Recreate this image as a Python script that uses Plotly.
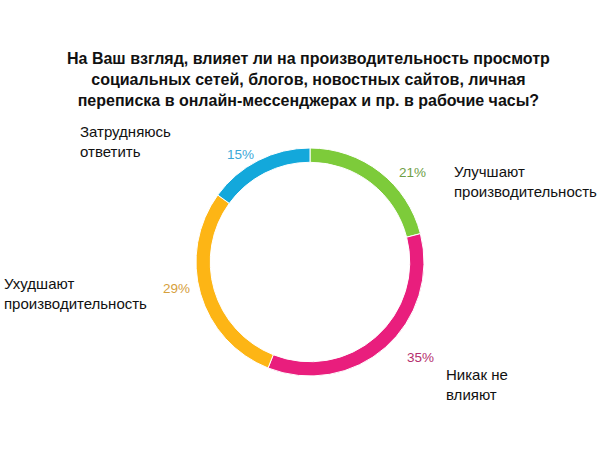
import plotly.graph_objects as go

categories = ["Улучшают<br>производительность", "Никак не<br>влияют", "Ухудшают<br>производительность", "Затрудняюсь<br>ответить"]
values = [21, 35, 29, 15]
colors = ["#7DCB3A", "#E91E7D", "#FDB515", "#13A8DB"]
pct_colors = ["#6E9E45", "#B5306E", "#D6A03C", "#3CA8D8"]

W, H = 600, 450
title = ("На Ваш взгляд, влияет ли на производительность просмотр<br>"
         "социальных сетей, блогов, новостных сайтов, личная<br>"
         "переписка в онлайн-мессенджерах и пр. в рабочие часы?")

fig = go.Figure(go.Pie(
    labels=categories, values=values, sort=False, direction="clockwise",
    rotation=0, hole=0.875, textinfo="none", hoverinfo="label+percent",
    marker=dict(colors=colors, line=dict(color="white", width=1)),
    domain=dict(x=[196 / W, 424 / W], y=[1 - 376 / H, 1 - 148 / H]),
    showlegend=False,
))

# label positions (pixels) for category text and percent text
cat_pos = [(452, 181), (444, 384), (2, 293), (78, 141)]
pct_pos = [(412, 172), (420, 357), (176, 288), (240, 154)]

ann = [dict(text="<b>" + title + "</b>", x=308 / W, y=1 - 79 / H, xref="paper", yref="paper",
            showarrow=False, xanchor="center", yanchor="middle",
            font=dict(family="Liberation Sans, Arial", size=16, color="#111"))]
for c, (x, y) in zip(categories, cat_pos):
    ann.append(dict(text=c, x=x / W, y=1 - y / H, xref="paper", yref="paper", showarrow=False,
                    xanchor="left", yanchor="middle", align="left",
                    font=dict(family="Liberation Sans, Arial", size=15, color="#111")))
for v, col, (x, y) in zip(values, pct_colors, pct_pos):
    ann.append(dict(text=f"{v}%", x=x / W, y=1 - y / H, xref="paper", yref="paper", showarrow=False,
                    xanchor="center", yanchor="middle",
                    font=dict(family="Liberation Sans, Arial", size=13.5, color=col)))

fig.update_layout(width=W, height=H, margin=dict(l=0, r=0, t=0, b=0),
                  paper_bgcolor="white", plot_bgcolor="white", annotations=ann)
fig.write_html("out.html")
